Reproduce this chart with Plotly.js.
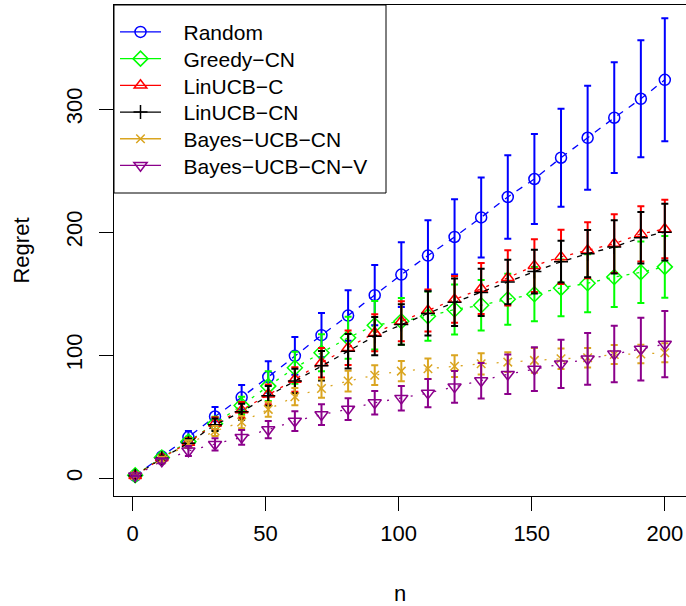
<!DOCTYPE html>
<html>
<head>
<meta charset="utf-8">
<script src="https://cdn.plot.ly/plotly-3.0.1.min.js"></script>
<style>html,body{margin:0;padding:0;background:#fff;}#chart{width:686px;height:606px;}</style>
</head>
<body>
<div id="chart"></div>
<script>
// ---- data ----
var nValues = [1, 11, 21, 31, 41, 51, 61, 71, 81, 91, 101, 111, 121, 131, 141, 151, 161, 171, 181, 191, 200];
var seriesNames = ["Random", "Greedy\u2212CN", "LinUCB\u2212C", "LinUCB\u2212CN", "Bayes\u2212UCB\u2212CN", "Bayes\u2212UCB\u2212CN\u2212V"];

var randomMean = [2, 17.6, 33.5, 50.2, 65.8, 82.3, 99.5, 116.3, 132.2, 148.8, 165.5, 181, 196.1, 212, 228.6, 243.2, 260.5, 276.7, 293, 308.4, 323.8];
var randomSd   = [0.6, 2.5, 5, 7.8, 10, 12.8, 15.3, 18, 20.5, 24.5, 26.3, 28.6, 30.6, 32.5, 34, 36.5, 39.8, 42.3, 45, 47.5, 50];

var greedyMean = [2.4, 16.8, 29.8, 44.4, 59.2, 74.9, 89.8, 102, 114.2, 124.4, 127.6, 131.7, 137.1, 140.6, 145.5, 149.6, 154.7, 158.5, 163.6, 167.4, 171.8];
var greedySd   = [0.5, 2, 4, 5.5, 7, 12, 13, 15, 17, 19.7, 19, 20, 20.3, 20.5, 20.7, 22, 23, 23.6, 24.4, 25, 25];

var linucbCMean = [2, 16.5, 29, 44.6, 55.4, 68.2, 80.3, 93.9, 106, 118.2, 127.6, 136.3, 145.3, 154.2, 162.9, 172.8, 179.9, 185.3, 190.7, 198.6, 202.6];
var linucbCSd   = [0.5, 2, 3.5, 5, 6.5, 8, 10, 12, 14, 15, 16.3, 17.1, 19, 20.8, 22.4, 21.4, 22.1, 22.7, 23.8, 22.4, 23.8];

var linucbCNMean = [2, 16.3, 28.5, 43.5, 54, 67, 79, 91.5, 103.3, 115.5, 125, 134, 143, 151, 159.5, 168, 176, 182.5, 188, 195.5, 200];
var linucbCNSd   = [0.5, 2, 3.5, 5, 6.5, 8, 10, 12, 14, 15.5, 16.5, 18, 19.3, 19.2, 18, 17.8, 17, 19.2, 21.6, 20.9, 23];

var bayesMean = [2, 15.5, 28, 38.4, 45.7, 56, 66.3, 73, 79, 83.8, 87.1, 89, 91.1, 93, 94.4, 95.8, 97.1, 97.9, 100.6, 101, 102];
var bayesSd   = [0.5, 2, 3, 4, 5, 6, 7, 7.5, 8.4, 8, 8.3, 8.4, 8.8, 8.7, 8, 10, 8.3, 7.9, 7.8, 7.5, 7.7];

var bayesVMean = [2, 14, 22.2, 27.6, 33.3, 39.5, 46.5, 51.7, 56.2, 61.4, 65, 69.2, 74.3, 79.3, 84.5, 88.7, 93, 97, 101, 105, 109];
var bayesVSd   = [0.5, 2, 4, 5, 6, 7, 8, 8.4, 8.8, 9.5, 10, 11.5, 12.9, 14.4, 16, 17.7, 19.6, 21, 23, 25.5, 27];

var xTicks = [0, 50, 100, 150, 200];
var yTicks = [0, 100, 200, 300];

// ---- styles ----
var means = [randomMean, greedyMean, linucbCMean, linucbCNMean, bayesMean, bayesVMean];
var sds = [randomSd, greedySd, linucbCSd, linucbCNSd, bayesSd, bayesVSd];
var colors = ["#0000FF", "#00FF00", "#FF0000", "#000000", "#DAA520", "#8B008B"];
var symbols = ["circle-open", "diamond-open", "triangle-up-open", "cross-thin-open", "x-thin-open", "triangle-down-open"];
var sizes = [11, 11.5, 11, 10, 8.5, 11.5];
var dashes = ["7px,7px", "3px,7px", "3px,7px", "5px,6px", "2px,10px", "2px,10px"];

var W = 686, H = 606, ML = 114, MR = 0, MT = 5, MB = 110;
var plotW = W - ML - MR, plotH = H - MT - MB;
function px2paperY(p) { return (H - MB - p) / plotH; }
function px2paperX(p) { return (p - ML) / plotW; }

var legendIds = ["legend", "legend2", "legend3", "legend4", "legend5", "legend6"];
var legendRowPx = [32.3, 59, 85.7, 112.4, 139.1, 165.8];

var traces = [];
for (var i = 0; i < seriesNames.length; i++) {
  traces.push({
    x: nValues, y: means[i], type: "scatter", mode: "lines+markers",
    name: seriesNames[i], showlegend: false, legendgroup: "g" + i,
    line: {color: colors[i], width: 1.3, dash: dashes[i]},
    marker: {symbol: symbols[i], size: sizes[i], color: colors[i], line: {width: 1.5, color: colors[i]}},
    error_y: {type: "data", array: sds[i], visible: true, color: colors[i], thickness: 2, width: 3.5},
    hoverinfo: "x+y+name"
  });
}
for (var j = 0; j < seriesNames.length; j++) {
  traces.push({
    x: [null], y: [null], type: "scatter", mode: "lines+markers",
    name: "\u00a0\u00a0\u00a0" + seriesNames[j], showlegend: true, legendgroup: "g" + j,
    legend: legendIds[j],
    line: {color: colors[j], width: 1.3},
    marker: {symbol: symbols[j], size: sizes[j], color: colors[j], line: {width: 1.5, color: colors[j]}}
  });
}

var font = "Liberation Sans, Arial, Helvetica, sans-serif";
var layout = {
  width: W, height: H,
  margin: {l: ML, r: MR, t: MT, b: MB},
  paper_bgcolor: "#ffffff", plot_bgcolor: "#ffffff",
  font: {family: font, size: 22, color: "#000"},
  showlegend: true,
  xaxis: {
    range: [-6.96, 207.96], tickvals: xTicks, ticktext: xTicks.map(String),
    ticks: "outside", ticklen: 14, tickwidth: 1, tickcolor: "#000",
    showline: true, linecolor: "#000", linewidth: 1, mirror: true,
    showgrid: false, zeroline: false,
    tickfont: {family: font, size: 22, color: "#000"},
    ticklabelstandoff: 4,
    title: {text: "n", font: {family: font, size: 22, color: "#000"}, standoff: 41}
  },
  yaxis: {
    range: [-14.4, 384.6], tickvals: yTicks, ticktext: yTicks.map(String),
    ticks: "outside", ticklen: 14, tickwidth: 1, tickcolor: "#000",
    showline: true, linecolor: "#000", linewidth: 1, mirror: true,
    showgrid: false, zeroline: false, tickangle: -90,
    tickfont: {family: font, size: 22, color: "#000"},
    ticklabelstandoff: 8,
    title: {text: "Regret", font: {family: font, size: 22, color: "#000"}, standoff: 26}
  },
  shapes: [{
    type: "rect", xref: "paper", yref: "paper", layer: "below",
    x0: 0, x1: px2paperX(386), y0: px2paperY(193), y1: 1,
    fillcolor: "#ffffff", line: {color: "#000000", width: 1}
  }],
  annotations: [{
    text: "Figure 2: Regret comparison in simulation",
    xref: "paper", yref: "paper", x: px2paperX(96), y: px2paperY(602), xanchor: "left", yanchor: "top",
    showarrow: false, font: {family: font, size: 27, color: "#000"}
  }]
};
for (var k = 0; k < legendIds.length; k++) {
  layout[legendIds[k]] = {
    x: px2paperX(115), y: px2paperY(legendRowPx[k]), xanchor: "left", yanchor: "middle",
    bgcolor: "rgba(0,0,0,0)", borderwidth: 0, itemwidth: 41,
    font: {family: font, size: 21, color: "#000"}
  };
}

Plotly.newPlot("chart", traces, layout, {displayModeBar: false, staticPlot: true});
</script>
</body>
</html>
